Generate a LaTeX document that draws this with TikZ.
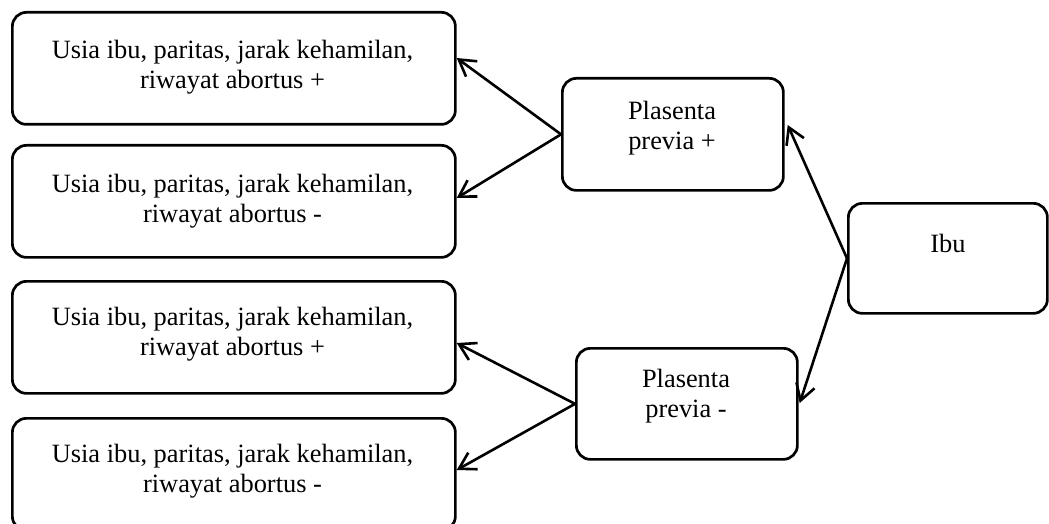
\documentclass[tikz,border=0pt]{standalone}
\usepackage{fontspec}
\setmainfont{Liberation Serif}
\usetikzlibrary{arrows.meta}
\begin{document}
\begin{tikzpicture}[x=1pt,y=-1pt,
  box/.style={draw, line width=2.7pt, rounded corners=14pt, inner sep=0pt, anchor=north west},
  bigbox/.style={box, minimum width=443pt, minimum height=112pt},
  smallbox/.style={box, minimum width=221pt, minimum height=112pt},
  txt/.style={align=center, inner sep=0pt, font=\fontsize{26.4}{30}\selectfont},
  arr/.style={line width=2.6pt, -{Straight Barb[length=16pt,width=19pt]}}]
\useasboundingbox (0,0) rectangle (1049,524);
% left boxes
\node[bigbox] (b1) at (11,11) {};
\node[bigbox] (b2) at (11,144) {};
\node[bigbox] (b3) at (11,280) {};
\node[bigbox] (b4) at (11,417) {};
\node[txt] (t1) at (232.5,66.9) {Usia ibu, paritas, jarak kehamilan,\\riwayat abortus +};
\node[txt] (t2) at (232.5,200.9) {Usia ibu, paritas, jarak kehamilan,\\riwayat abortus -};
\node[txt] (t3) at (232.5,333.9) {Usia ibu, paritas, jarak kehamilan,\\riwayat abortus +};
\node[txt] (t4) at (232.5,470.9) {Usia ibu, paritas, jarak kehamilan,\\riwayat abortus -};
% middle boxes
\node[smallbox] (pp) at (561,77) {};
\node[smallbox, minimum height=111pt] (pm) at (575,347) {};
\node[txt] (tpp) at (672,127.9) {Plasenta\\previa +};
\node[txt] (tpm) at (686,395.9) {Plasenta\\previa -};
% right box
\node[box, minimum width=199pt, minimum height=110pt] (ibu) at (847,202) {};
\node[txt] (tibu) at (948,243) {Ibu};
% connectors
\draw[arr] (pp.west) -- (b1.east |- 0,58);
\draw[arr] (pp.west) -- (b2.east |- 0,198);
\draw[arr] (pm.west) -- (b3.east |- 0,343);
\draw[arr] (pm.west) -- (b4.east |- 0,470);
\draw[arr] (ibu.west) -- ([xshift=3pt]pp.east |- 0,125);
\draw[arr] (ibu.west) -- ([xshift=1pt]pm.east |- 0,403);
\end{tikzpicture}
\end{document}
